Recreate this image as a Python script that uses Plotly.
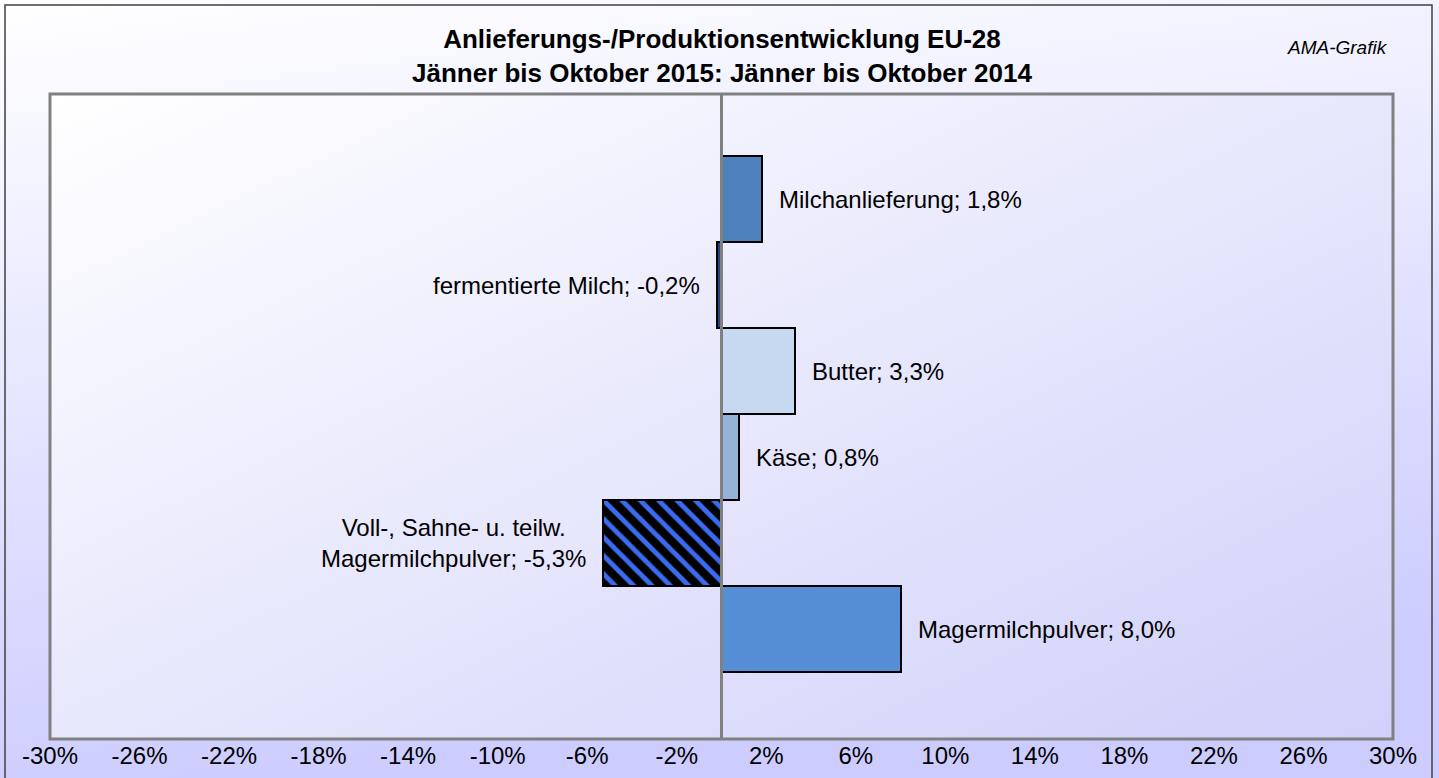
import base64
import plotly.graph_objects as go

# ---- data ----
categories = [
    "Milchanlieferung",
    "fermentierte Milch",
    "Butter",
    "Käse",
    "Voll-, Sahne- u. teilw.<br>Magermilchpulver",
    "Magermilchpulver",
]
values = [1.8, -0.2, 3.3, 0.8, -5.3, 8.0]
bar_colors = ["#4F81BD", "#1F497D", "#C6D9F1", "#95B3D7", "#000000", "#558ED5"]
bar_patterns = ["", "", "", "", "\\", ""]
tick_values = list(range(-30, 31, 4))
tick_labels = [f"{v}%" for v in tick_values]
title_lines = ["Anlieferungs-/Produktionsentwicklung EU-28",
               "Jänner bis Oktober 2015: Jänner bis Oktober 2014"]
source_note = "AMA-Grafik"

# ---- layout geometry (pixels) ----
FW, FH = 1439, 778
L, R, T, B = 50, 1393, 94, 739
W, H = R - L, B - T


def px(x):
    return (x - L) / W


def py(y):
    return (B - y) / H


def gradient_uri(c0, c1, x2, y2):
    svg = (
        '<svg xmlns="http://www.w3.org/2000/svg" width="100" height="100" '
        'viewBox="0 0 100 100" preserveAspectRatio="none">'
        '<defs><linearGradient id="g" x1="0" y1="0" x2="%s" y2="%s">'
        '<stop offset="0" stop-color="%s"/><stop offset="1" stop-color="%s"/>'
        '</linearGradient></defs><rect width="100" height="100" fill="url(#g)"/></svg>'
    ) % (x2, y2, c0, c1)
    return "data:image/svg+xml;base64," + base64.b64encode(svg.encode()).decode()


FONT = "Arial, Liberation Sans, sans-serif"

fig = go.Figure()
for cat, val, col, pat in zip(categories, values, bar_colors, bar_patterns):
    marker = dict(color=col, line=dict(color="#000000", width=2))
    if pat:
        marker["pattern"] = dict(shape=pat, fgcolor="#3A6BF0", fgopacity=1,
                                 size=13, solidity=0.38, fillmode="overlay")
    fig.add_trace(go.Bar(
        y=[cat], x=[val], orientation="h", marker=marker,
        hoverinfo="skip", showlegend=False,
    ))

annotations = []
for cat, val in zip(categories, values):
    txt = f"{cat}; " + f"{val:.1f}".replace(".", ",") + "%"
    annotations.append(dict(
        x=val, y=cat, xref="x", yref="y", text=txt, showarrow=False,
        xanchor="left" if val >= 0 else "right",
        xshift=15 if val >= 0 else -15,
        align="center", font=dict(family=FONT, size=24, color="#000000"),
    ))

annotations.append(dict(
    x=0.5, y=py(56), xref="paper", yref="paper", showarrow=False,
    text="<br>".join(f"<b>{t}</b>" for t in title_lines),
    xanchor="center", yanchor="middle", align="center",
    font=dict(family=FONT, size=26, color="#000000"),
))
annotations.append(dict(
    x=px(1390), y=py(48), xref="paper", yref="paper", showarrow=False,
    text=f"<i>{source_note}</i>", xanchor="right", yanchor="middle",
    font=dict(family=FONT, size=19, color="#000000"),
))

shapes = [
    # outer chart frame
    dict(type="rect", xref="paper", yref="paper",
         x0=px(5), x1=px(1432), y0=py(800), y1=py(5),
         line=dict(color="#404040", width=1.5), layer="above"),
    # plot area border
    dict(type="rect", xref="paper", yref="paper", x0=0, x1=1, y0=0, y1=1,
         line=dict(color="#808080", width=3), layer="above"),
    # zero line
    dict(type="line", xref="x", yref="paper", x0=0, x1=0, y0=0, y1=1,
         line=dict(color="#808080", width=3), layer="above"),
]

images = [
    dict(source=gradient_uri("#FFFFFF", "#CCCCFF", 0.25, 1), xref="paper", yref="paper",
         x=px(0), y=py(0), sizex=FW / W, sizey=FH / H,
         xanchor="left", yanchor="top", sizing="stretch", layer="below"),
    dict(source=gradient_uri("#FFFFFF", "#D0D0FA", 1, 1), xref="paper", yref="paper",
         x=0, y=1, sizex=1, sizey=1,
         xanchor="left", yanchor="top", sizing="stretch", layer="below"),
]

fig.update_layout(
    width=FW, height=FH,
    margin=dict(l=L, r=FW - R, t=T, b=FH - B, pad=0, autoexpand=False),
    paper_bgcolor="#CCCCFF",
    plot_bgcolor="rgba(0,0,0,0)",
    barmode="overlay",
    bargap=0,
    font=dict(family=FONT, color="#000000"),
    xaxis=dict(range=[-30, 30], tickvals=tick_values, ticktext=tick_labels,
               showgrid=False, zeroline=False, showline=False, automargin=False,
               ticks="",
               tickfont=dict(family=FONT, size=24, color="#000000"),
               fixedrange=True),
    yaxis=dict(type="category", categoryorder="array",
               categoryarray=categories[::-1],
               range=[-(B - 629) / 86, (629 - T) / 86], automargin=False,
               showticklabels=False, showgrid=False, zeroline=False,
               showline=False, ticks="", fixedrange=True),
    annotations=annotations,
    shapes=shapes,
    images=images,
)

fig.write_html(
    "out.html",
    config={"displayModeBar": False},
    post_script="document.body.style.margin='0px';document.body.style.overflow='hidden';",
)
